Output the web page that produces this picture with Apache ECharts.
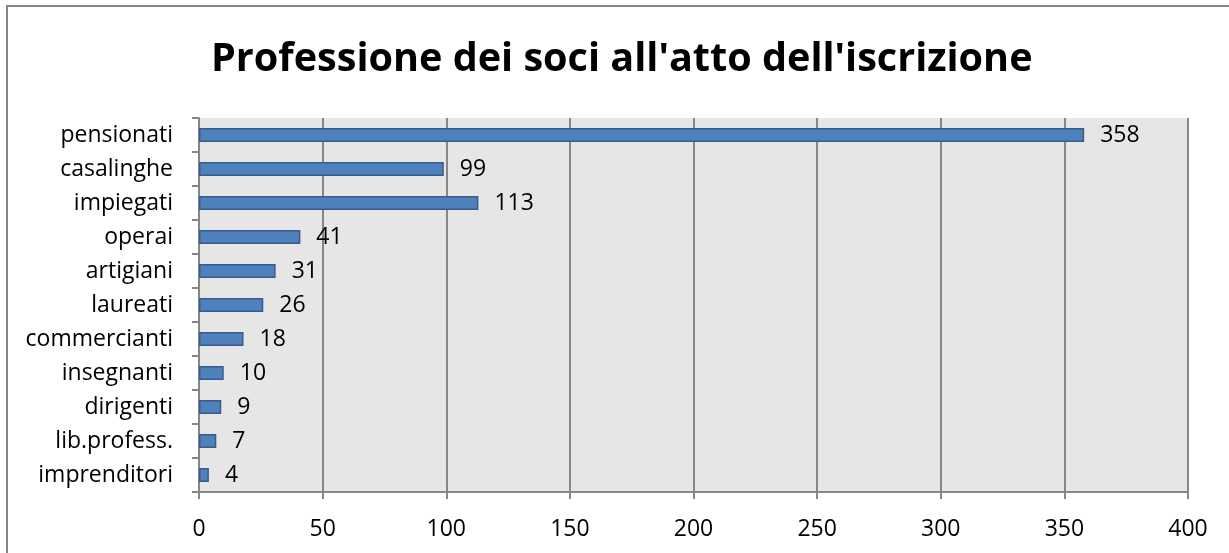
<!DOCTYPE html>
<html><head><meta charset="utf-8">
<script src="https://cdn.jsdelivr.net/npm/echarts@6/dist/echarts.min.js"></script>
<style>html,body{margin:0;padding:0;background:#fff}#c{width:1229px;height:553px}</style>
</head><body><div id="c"></div>
<script>
const titleText = "Professione dei soci all'atto dell'iscrizione";
const categories = ["pensionati","casalinghe","impiegati","operai","artigiani","laureati","commercianti","insegnanti","dirigenti","lib.profess.","imprenditori"];
const values = [358,99,113,41,31,26,18,10,9,7,4];
const xTicks = [0,400,50];

const chart = echarts.init(document.getElementById('c'));
const font = "'Open Sans', 'Noto Sans', sans-serif";
chart.setOption({
  animation:false,
  title:{text:titleText,left:211,top:40,padding:0,textStyle:{fontFamily:font,fontSize:39.6,fontWeight:'bold',color:'#000'}},
  graphic:[{type:'rect',shape:{x:7,y:6,width:1300,height:600},style:{fill:'none',stroke:'#868686',lineWidth:2},silent:true,z:-1}],
  grid:{left:199,top:118,width:989,height:374,backgroundColor:'#E6E6E6',show:true,borderWidth:0},
  xAxis:{type:'value',min:xTicks[0],max:xTicks[1],interval:xTicks[2],
    axisLine:{show:true,lineStyle:{color:'#868686',width:2}},
    axisTick:{show:true,length:7,lineStyle:{color:'#868686',width:2}},
    axisLabel:{fontFamily:font,fontSize:23,color:'#000',margin:26},
    splitLine:{show:true,lineStyle:{color:'#868686',width:2}}},
  yAxis:{type:'category',data:categories,inverse:true,
    axisLine:{show:true,lineStyle:{color:'#868686',width:2}},
    axisTick:{show:true,length:7,lineStyle:{color:'#868686',width:2}},
    axisLabel:{fontFamily:font,fontSize:23,color:'#000',margin:26}},
  series:[{type:'bar',data:values,barWidth:14,
    itemStyle:{color:'#4F81BD',borderColor:'#385D8A',borderWidth:1.5},
    label:{show:true,position:'right',distance:16,fontFamily:font,fontSize:23,color:'#000'}}]
});
</script></body></html>
